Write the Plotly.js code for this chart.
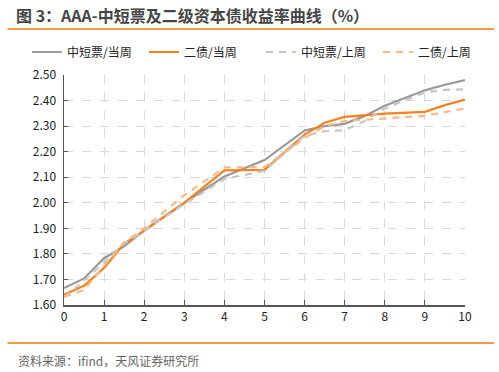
<!DOCTYPE html>
<html><head><meta charset="utf-8">
<script src="https://cdn.plot.ly/plotly-3.0.1.min.js"></script>
<style>html,body{margin:0;padding:0;background:#fff;}#chart{width:499px;height:372px;}</style>
</head><body><div id="chart"></div>
<script>
const seriesNames = ['中短票/当周', '二债/当周', '中短票/上周', '二债/上周'];
const xCurShort = [0, 0.5, 1, 1.5, 2, 3, 4, 4.5, 5, 6, 6.5, 7, 7.5, 8, 9, 9.5, 10];
const yCurShort = [1.666, 1.704, 1.783, 1.830, 1.892, 2.000, 2.103, 2.135, 2.167, 2.283, 2.300, 2.309, 2.340, 2.380, 2.440, 2.462, 2.480];
const xCurSub = [0, 0.5, 1, 1.5, 2, 3, 4, 4.5, 5, 6, 6.5, 7, 8, 9, 9.5, 10];
const yCurSub = [1.640, 1.675, 1.745, 1.840, 1.890, 2.000, 2.127, 2.127, 2.129, 2.267, 2.313, 2.336, 2.349, 2.356, 2.382, 2.404];
const xPrevShort = [0, 0.5, 1, 1.5, 2, 3, 4, 4.5, 5, 6, 6.5, 7, 7.5, 8, 9, 9.5, 10];
const yPrevShort = [1.630, 1.695, 1.767, 1.840, 1.890, 1.995, 2.093, 2.110, 2.125, 2.262, 2.280, 2.284, 2.320, 2.369, 2.432, 2.442, 2.444];
const xPrevSub = [0, 0.5, 1, 1.5, 2, 3, 4, 4.5, 5, 6, 6.5, 7, 8, 9, 9.5, 10];
const yPrevSub = [1.632, 1.658, 1.755, 1.845, 1.900, 2.030, 2.138, 2.140, 2.140, 2.253, 2.300, 2.320, 2.330, 2.340, 2.355, 2.369];
const yTicks = [1.6, 1.7, 1.8, 1.9, 2.0, 2.1, 2.2, 2.3, 2.4, 2.5];
const xTicks = [0, 1, 2, 3, 4, 5, 6, 7, 8, 9, 10];
const titleText = '图 3：AAA-中短票及二级资本债收益率曲线（%）';
const sourceText = '资料来源：ifind，天风证券研究所';

const FONT = 'Noto Sans CJK SC, sans-serif';
const W = 499, H = 372;
const px = (v) => v / W;
const py = (v) => 1 - v / H;
const traces = [
  {x: xCurShort, y: yCurShort, name: seriesNames[0], mode: 'lines', line: {color: '#9a9a9a', width: 2.2}},
  {x: xCurSub, y: yCurSub, name: seriesNames[1], mode: 'lines', line: {color: '#f5821f', width: 2.2}},
  {x: xPrevShort, y: yPrevShort, name: seriesNames[2], mode: 'lines', line: {color: '#c6c6c6', width: 2.2, dash: '7px,6px'}},
  {x: xPrevSub, y: yPrevSub, name: seriesNames[3], mode: 'lines', line: {color: '#f8b98a', width: 2.2, dash: '7px,6px'}}
];
const rule = (yPix) => ({text: '', xref: 'paper', yref: 'paper', x: px(494), y: py(yPix), showarrow: true,
  ax: -488, ay: 0, arrowhead: 0, arrowwidth: 2, arrowcolor: '#f29a45', standoff: 0, startstandoff: 0});
const layout = {
  width: W, height: H,
  margin: {l: 0, r: 0, t: 0, b: 0, pad: 0},
  paper_bgcolor: '#fff', plot_bgcolor: '#fff',
  font: {family: FONT, size: 12, color: '#222'},
  showlegend: true,
  legend: {orientation: 'h', x: px(27), xanchor: 'left', y: py(52), yanchor: 'middle',
           font: {size: 12, color: '#222'}, itemwidth: 30, entrywidth: 72, entrywidthmode: 'pixels', tracegroupgap: 0, bgcolor: 'rgba(0,0,0,0)'},
  xaxis: {domain: [px(64), px(465)], range: [0, 10], tickvals: xTicks, ticktext: xTicks.map(String), showgrid: true, gridcolor: '#d9d9d9', griddash: 'dash', gridwidth: 1,
          showline: true, linecolor: '#555', linewidth: 1.5, ticks: 'inside', ticklen: 5, tickcolor: '#555', zeroline: false, automargin: false,
          tickfont: {size: 12, color: '#222'}, fixedrange: true},
  yaxis: {domain: [py(305), py(75)], range: [1.6, 2.5], tickvals: yTicks, ticktext: yTicks.map(v => v.toFixed(2)), showgrid: true, gridcolor: '#d9d9d9', griddash: 'dash', gridwidth: 1,
          showline: true, linecolor: '#555', linewidth: 1.5, ticks: 'inside', ticklen: 4, tickcolor: '#555', zeroline: false, automargin: false,
          tickfont: {size: 12, color: '#222'}, ticklabelstandoff: 4, fixedrange: true},
  annotations: [
    {text: '<b>' + titleText + '</b>', xref: 'paper', yref: 'paper', x: px(14), y: py(15), xanchor: 'left', yanchor: 'middle', showarrow: false,
     font: {size: 16, color: '#454545', family: FONT}},
    {text: sourceText, xref: 'paper', yref: 'paper', x: px(16), y: py(360), xanchor: 'left', yanchor: 'middle', showarrow: false,
     font: {size: 12, color: '#666', family: FONT}},
    rule(29),
    rule(343)
  ]
};
Plotly.newPlot('chart', traces, layout, {displayModeBar: false, staticPlot: true});
</script></body></html>
